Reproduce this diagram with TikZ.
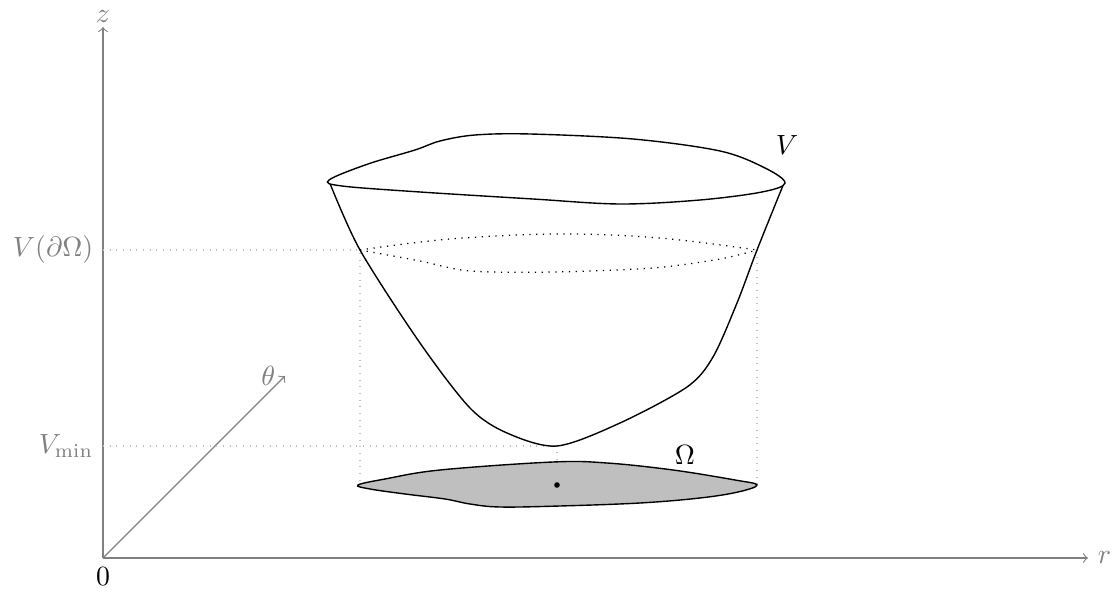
\documentclass[tikz,border=0pt]{standalone}
\usepackage{amsmath}
\begin{document}
\begin{tikzpicture}[x=0.36pt,y=-0.36pt,
  axis/.style={gray,->,line width=0.4pt},
  axlabel/.style={text=gray},
  guide/.style={gray!50,dotted,line width=0.4pt},
  surf/.style={black,line width=0.5pt},
  level/.style={black,dotted,line width=0.45pt}]
\useasboundingbox (0,0) rectangle (1115,593);
% axes
\coordinate (O) at (103,558);
\coordinate (zt) at (103,27);
\coordinate (rt) at (1088,558);
\coordinate (tt) at (285,376);
\draw[axis] (O) -- (zt) node[axlabel,above,inner sep=1.5pt] {$z$};
\draw[axis] (O) -- (rt) node[axlabel,right] {$r$};
\draw[axis] (O) -- (tt) node[axlabel,left] {$\theta$};
\node[below] (zero) at (O) {$0$};
% level marks
\coordinate (zl) at (103,250);
\coordinate (zm) at (103,446);
\coordinate (L) at (360,250);
\coordinate (R) at (757,250);
\coordinate (B) at (557,446);
\coordinate (Lb) at (360,485);
\coordinate (Rb) at (757,485);
\coordinate (C) at (557,485);
\node[axlabel,left] (lvl) at (zl) {$V(\partial\Omega)$};
\node[axlabel,left] (lmin) at (zm) {$V_{\min}$};
\draw[guide] (zl) -- (L) -- (Lb);
\draw[guide] (R) -- (Rb);
\draw[guide] (zm) -- (B) -- (C);
% domain Omega
\draw[surf,fill=lightgray] plot[smooth cycle,tension=0.6] coordinates {
 (358,485) (385,479) (440,470) (553,462) (607,463) (673,470) (735,480) (757,485)
 (738,492) (700,498) (640,503) (560,506) (500,507) (470,504) (445,499) (405,494) (370,489)};
\fill (C) circle (1pt);
\node (om) at (685,455) {$\Omega$};
% bowl sides
\draw[surf] plot[smooth,tension=0.5] coordinates {
 (329,181) (360,250) (420,343) (470,408) (507,433) (557,446) (620,423) (687,387)
 (713,357) (737,303) (757,250) (784,183)};
% rim
\draw[surf,fill=white] plot[smooth cycle,tension=0.55] coordinates {
 (329,180) (368,164) (415,150) (440,141) (475,135) (530,134) (633,139) (720,151) (765,168) (785,183)
 (762,192) (700,200) (620,204) (533,199) (420,192) (342,186)};
\node (vl) at (787,145) {$V$};
% level curve
\draw[level] plot[smooth,tension=0.6] coordinates {
 (360,250) (450,239) (560,234) (660,238) (757,250)};
\draw[level] plot[smooth,tension=0.5] coordinates {
 (360,250) (420,261) (470,271) (553,272) (653,268) (720,259) (757,250)};
\end{tikzpicture}
\end{document}
